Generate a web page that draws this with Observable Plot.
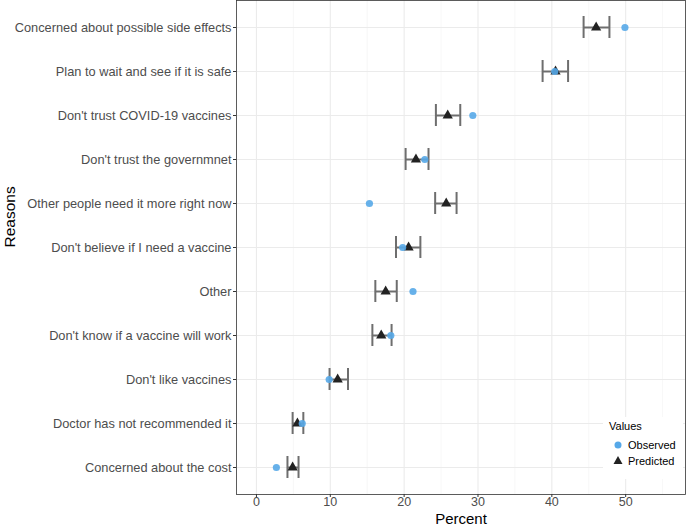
<!DOCTYPE html>
<html><head><meta charset="utf-8">
<script src="https://cdn.jsdelivr.net/npm/d3@7"></script>
<script src="https://cdn.jsdelivr.net/npm/@observablehq/plot@0.6"></script>
<style>
body{margin:0;background:#fff;font-family:"Liberation Sans",Arial,Helvetica,sans-serif;}
#wrap{position:relative;width:686px;height:525px;}
#legend{position:absolute;left:603px;top:417px;width:80px;height:62px;background:#fff;font-size:11px;color:#000;}
</style></head><body>
<div id="wrap"><div id="chart"></div>
<div id="legend">
<div style="position:absolute;left:6px;top:3px;">Values</div>
<svg style="position:absolute;left:0;top:18px" width="80" height="40">
<circle cx="15" cy="10" r="3.5" fill="#56A8E8"/>
<path d="M15,21 L19.5,29 L10.5,29 Z" fill="#222"/>
<text x="25" y="14" font-size="11" fill="#000" font-family="Liberation Sans,Arial,sans-serif">Observed</text>
<text x="25" y="30" font-size="11" fill="#000" font-family="Liberation Sans,Arial,sans-serif">Predicted</text>
</svg>
</div></div>
<script>
const reasons = ["Concerned about possible side effects","Plan to wait and see if it is safe","Don't trust COVID-19 vaccines","Don't trust the governmnet","Other people need it more right now","Don't believe if I need a vaccine","Other","Don't know if a vaccine will work","Don't like vaccines","Doctor has not recommended it","Concerned about the cost"];
const observed = [49.9, 40.4, 29.3, 22.8, 15.3, 19.8, 21.2, 18.2, 9.85, 6.2, 2.7];
const predicted = [46.0, 40.5, 25.9, 21.6, 25.7, 20.6, 17.5, 16.9, 11.0, 5.55, 4.9];
const lower = [44.3, 38.75, 24.3, 20.2, 24.2, 18.9, 16.1, 15.7, 9.9, 4.9, 4.2];
const upper = [47.8, 42.2, 27.6, 23.3, 27.1, 22.2, 19.0, 18.3, 12.4, 6.35, 5.7];
const xTicks = [0,10,20,30,40,50];
const xMinor = [5,15,25,35,45,55];

const data = reasons.map((r,i)=>({reason:r, obs:observed[i], pred:predicted[i], lo:lower[i], hi:upper[i]}));

const chart = Plot.plot({
  width: 686, height: 525,
  marginLeft: 236, marginRight: 1, marginTop: 0, marginBottom: 31,
  style: {fontFamily: '"Liberation Sans",Arial,Helvetica,sans-serif', background: "#fff"},
  x: {domain: [-2.7, 58.1]},
  y: {type: "band", domain: reasons, paddingInner: 0.5, paddingOuter: 0.35},
  marks: [
    Plot.ruleX(xMinor, {stroke: "#F2F2F2", strokeWidth: 0.6}),
    Plot.ruleX(xTicks, {stroke: "#EBEBEB", strokeWidth: 1.1}),
    Plot.ruleY(reasons, {y: d=>d, stroke: "#EBEBEB", strokeWidth: 1.1}),
    Plot.ruleY(data, {y: "reason", x1: "lo", x2: "hi", stroke: "#6E6E6E", strokeWidth: 2}),
    Plot.tickX(data, {x: "lo", y: "reason", stroke: "#6E6E6E", strokeWidth: 2}),
    Plot.tickX(data, {x: "hi", y: "reason", stroke: "#6E6E6E", strokeWidth: 2}),
    Plot.dot(data, {x: "pred", y: "reason", symbol: "triangle", r: 3.8, fill: "#222", stroke: "none"}),
    Plot.dot(data, {x: "obs", y: "reason", r: 3.6, fill: "#56A8E8", fillOpacity: 0.9, stroke: "none"}),
    Plot.frame({stroke: "#333", strokeWidth: 0.8}),
    Plot.axisX({ticks: xTicks, tickSize: 3, tickPadding: 0, fontSize: 12.5, color: "#4D4D4D", stroke: "#333", label: null}),
    Plot.axisY({tickSize: 3, tickPadding: 2, fontSize: 12.8, color: "#4D4D4D", stroke: "#333", label: null}),
    Plot.text(["Percent"], {frameAnchor: "bottom", dy: 29, fontSize: 15, fill: "#000"}),
    Plot.text(["Reasons"], {frameAnchor: "left", dx: -226, rotate: -90, fontSize: 15.5, fill: "#000"})
  ]
});
document.getElementById("chart").appendChild(chart);
</script>
</body></html>
